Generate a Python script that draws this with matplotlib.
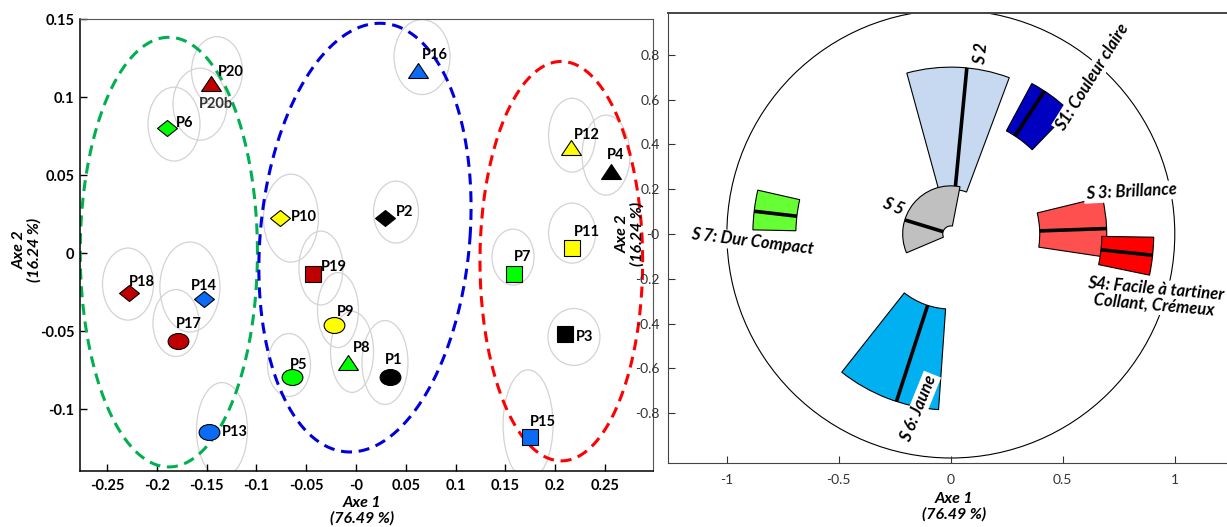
import numpy as np
import matplotlib.pyplot as plt
from matplotlib.patches import Ellipse, Wedge, Circle
from matplotlib.markers import MarkerStyle
from matplotlib.transforms import Affine2D

plt.rcParams['font.family'] = ['Lato', 'DejaVu Sans']

# ---------------- left panel: products on the first two axes ----------------
samples = ['P1', 'P2', 'P3', 'P4', 'P5', 'P6', 'P7', 'P8', 'P9', 'P10',
           'P11', 'P12', 'P13', 'P14', 'P15', 'P16', 'P17', 'P18', 'P19', 'P20']
axe1 = [0.0341, 0.0291, 0.2098, 0.2565, -0.0646, -0.1900, 0.1584, -0.0083, -0.0218, -0.0763,
        0.2166, 0.2162, -0.1473, -0.1527, 0.1746, 0.0627, -0.1785, -0.2277, -0.0429, -0.1460]
axe2 = [-0.0795, 0.0224, -0.0520, 0.0526, -0.0795, 0.0805, -0.0130, -0.0695, -0.0460, 0.0224,
        0.0037, 0.0680, -0.1147, -0.0293, -0.1180, 0.1174, -0.0560, -0.0256, -0.0133, 0.1090]
colour_key = ['black', 'black', 'black', 'black', 'green', 'green', 'green', 'green', 'yellow', 'yellow',
              'yellow', 'yellow', 'blue', 'blue', 'blue', 'blue', 'red', 'red', 'red', 'red']
shape_key = ['circle', 'diamond', 'square', 'triangle', 'circle', 'diamond', 'square', 'triangle',
             'circle', 'diamond', 'square', 'triangle', 'circle', 'diamond', 'square', 'triangle',
             'circle', 'diamond', 'square', 'triangle']

# confidence ellipses (one per product, plus the repeated P20b)
ell_names = samples + ['P20b']
ell_x = [0.0291, 0.0402, 0.2189, 0.2511, -0.0673, -0.1828, 0.1577, -0.0040, -0.0181, -0.0653,
         0.2170, 0.2170, -0.1346, -0.1668, 0.1728, 0.0663, -0.1808, -0.2290, -0.0352, -0.1396, -0.1567]
ell_y = [-0.0700, 0.0265, -0.0536, 0.0630, -0.0716, 0.0829, -0.0024, -0.0632, -0.0364, 0.0226,
         0.0130, 0.0758, -0.1133, -0.0216, -0.1100, 0.1259, -0.0447, -0.0197, -0.0094, 0.1169, 0.0957]
ell_w = [0.0462, 0.0452, 0.0522, 0.0482, 0.0432, 0.0522, 0.0422, 0.0432, 0.0412, 0.0552,
         0.0472, 0.0472, 0.0512, 0.0603, 0.0502, 0.0562, 0.0462, 0.0512, 0.0442, 0.0512, 0.0542]
ell_h = [0.0538, 0.0397, 0.0365, 0.0513, 0.0404, 0.0474, 0.0359, 0.0519, 0.0481, 0.0564,
         0.0385, 0.0474, 0.0609, 0.0577, 0.0705, 0.0481, 0.0429, 0.0462, 0.0474, 0.0442, 0.0462]

# groups (dashed ellipses)
grp_colour = ['#00B050', '#0000DD', '#FF0000']
grp_x = [-0.188, 0.009, 0.2062]
grp_y = [0.0008, 0.0101, -0.005]
grp_a = [0.089, 0.1055, 0.0817]
grp_b = [0.1378, 0.1375, 0.1281]
grp_shear = [0.0, 0.015, 0.0]

# ---------------- right panel: sensory attributes ----------------
attr_names = ['S 2', 'S 5', 'S1: Couleur claire', 'S 7: Dur Compact', 'S 3: Brillance',
              'S4: Facile à tartiner\nCollant, Crémeux', 'S 6: Jaune']
attr_r0 = [0.20, 0.036, 0.523, 0.692, 0.397, 0.674, 0.335]
attr_r1 = [0.745, 0.215, 0.763, 0.884, 0.696, 0.906, 0.786]
attr_t1 = [69.5, 79.0, 46.0, 167.2, -8.5, -11.7, 231.7]
attr_t2 = [105.3, 203.0, 61.7, 178.8, 13.7, -0.9, 266.0]
attr_tm = [84.5, 163.0, 56.8, 173.4, 2.0, -6.0, 252.0]
attr_colour = ['#C6D9F1', '#C0C0C0', '#0000C0', '#66FF33', '#FF5050', '#FF0000', '#00B0F0']

# label placement (layout)
lab_x = [0.134, -0.259, 0.632, -0.888, 0.804, 0.911, -0.143]
lab_y = [0.806, 0.125, 0.702, -0.036, 0.1875, -0.281, -0.777]
lab_rot = [84, -22, 58, -7, 3, -5, 68]

colour_map = {'black': '#000000', 'green': '#00FF00', 'yellow': '#FFFF00',
              'blue': '#0A6CF5', 'red': '#C00000'}
marker_map = {
    'circle': (MarkerStyle('o', transform=Affine2D().scale(1.3, 1.0)), 11.5),
    'square': (MarkerStyle('s'), 11),
    'diamond': (MarkerStyle('D', transform=Affine2D().scale(1.0, 0.78)), 9.8),
    'triangle': (MarkerStyle('^', transform=Affine2D().scale(1.38, 1.0)), 10.8),
}
# label offsets in pixels (right, down) from each marker
label_off = {'P1': (-5, -17), 'P2': (11, -6), 'P3': (11, 3), 'P4': (-5, -16), 'P5': (-2, -12),
             'P6': (9, -5), 'P7': (0, -17), 'P8': (5, -14), 'P9': (3, -13), 'P10': (11, -1),
             'P11': (2, -16), 'P12': (3, -12), 'P13': (13, 0), 'P14': (-13, -13), 'P15': (0, -15.5),
             'P16': (3, -15), 'P17': (-2, -17), 'P18': (0, -11), 'P19': (8, -7), 'P20': (7, -11)}

fig = plt.figure(figsize=(12.27, 5.27), dpi=100)

# ===== left panel =====
ax1 = fig.add_axes([0.0652, 0.1068, 0.4670, 0.8562])
ax1.set_xlim(-0.2772, 0.2983)
ax1.set_ylim(-0.1394, 0.15)

for cx, cy, w, h in zip(ell_x, ell_y, ell_w, ell_h):
    ax1.add_patch(Ellipse((cx, cy), w, h, facecolor='none', edgecolor='#D3D3D3', lw=0.9, zorder=1))

t = np.linspace(0, 2 * np.pi, 300)
for col, cx, cy, a, b, s in zip(grp_colour, grp_x, grp_y, grp_a, grp_b, grp_shear):
    ax1.plot(cx + a * np.cos(t) + s * np.sin(t), cy + b * np.sin(t), color=col, lw=2.2,
             dashes=(3.6, 2.2), zorder=2)

for nm, x, y, ck, sk in zip(samples, axe1, axe2, colour_key, shape_key):
    mk, ms = marker_map[sk]
    ax1.plot([x], [y], linestyle='none', marker=mk, markersize=ms,
             markerfacecolor=colour_map[ck], markeredgecolor='black', markeredgewidth=0.8, zorder=4)
    dx, dy = label_off[nm]
    ax1.annotate(nm, (x, y), xytext=(dx, -dy), textcoords='offset pixels',
                 ha='left', va='center', fontsize=10.5, fontweight='bold', zorder=5)
# repeated sample P20b shares the P20 position
ax1.annotate('P20b', (axe1[19], axe2[19]), xytext=(-12, -21), textcoords='offset pixels',
             ha='left', va='center', fontsize=10.5, fontweight='bold', color='#333333', zorder=5)

xt = np.round(np.arange(-0.25, 0.2501, 0.05), 2)
yt = np.round(np.arange(-0.1, 0.1501, 0.05), 2)
ax1.set_xticks(xt)
ax1.set_xticklabels(['%g' % v for v in xt])
ax1.set_yticks(yt)
ax1.set_yticklabels(['%g' % v for v in yt])
ax1.tick_params(direction='in', length=5, width=1, labelsize=10.5, pad=4)
for lab in ax1.get_xticklabels() + ax1.get_yticklabels():
    lab.set_fontweight('bold')
ax1.tick_params(axis='x', pad=6)
for sp in ['left', 'bottom']:
    ax1.spines[sp].set_linewidth(1.1)
for sp in ['top', 'right']:
    ax1.spines[sp].set_linewidth(0.8)
    ax1.spines[sp].set_color('#555555')

ax1.text(0.492, -0.089, 'Axe 1\n(76.49 %)', transform=ax1.transAxes, ha='center', va='center',
         fontsize=11.5, fontweight='bold', fontstyle='italic', linespacing=1.1)
ax1.text(-0.0925, 0.489, 'Axe 2\n(16.24 %)', transform=ax1.transAxes, ha='center', va='center',
         rotation=90, fontsize=11.5, fontweight='bold', fontstyle='italic', linespacing=1.1)

# ===== right panel =====
ax2 = fig.add_axes([0.5444, 0.1220, 0.4605, 0.8539])
ax2.set_xlim(-1.263, 1.26)
ax2.set_ylim(-1.021, 0.988)
ax2.patch.set_alpha(0)

ax2.add_patch(Circle((0, 0), 1.0, facecolor='none', edgecolor='black', lw=0.8, zorder=1))

for i, (r0, r1, t1, t2, tm, col) in enumerate(zip(attr_r0, attr_r1, attr_t1, attr_t2,
                                                  attr_tm, attr_colour)):
    z = 2 + i * 0.1
    ax2.add_patch(Wedge((0, 0), r1, t1, t2, width=r1 - r0, facecolor=col,
                        edgecolor='black', lw=0.8, zorder=z))
    th = np.deg2rad(tm)
    ax2.plot([r0 * np.cos(th), r1 * np.cos(th)], [r0 * np.sin(th), r1 * np.sin(th)],
             color='black', lw=2.6, solid_capstyle='butt', zorder=z + 0.05)

for nm, x, y, rot in zip(attr_names, lab_x, lab_y, lab_rot):
    ax2.text(x, y, nm, ha='center', va='center', rotation=rot, rotation_mode='anchor',
             fontsize=12, fontweight='bold', fontstyle='italic', linespacing=1.05, zorder=10,
             bbox=dict(facecolor='white', edgecolor='none', pad=1.0))

xt2 = [-1, -0.5, 0, 0.5, 1]
yt2 = np.round(np.arange(-0.8, 0.801, 0.2), 1)
ax2.set_xticks(xt2)
ax2.set_xticklabels(['%g' % v for v in xt2])
ax2.set_yticks(yt2)
ax2.set_yticklabels(['%g' % v for v in yt2])
ax2.tick_params(direction='in', length=5, width=0.8, labelsize=10, colors='#333333')
ax2.tick_params(axis='y', pad=6)
ax2.tick_params(axis='x', pad=8)
ax2.spines['right'].set_visible(False)
ax2.spines['top'].set_linewidth(1.4)
ax2.spines['top'].set_color('#444444')
ax2.spines['left'].set_color('#444444')
ax2.spines['bottom'].set_color('#444444')

ax2.text(0.506, -0.098, 'Axe 1\n(76.49 %)', transform=ax2.transAxes, ha='center', va='center',
         fontsize=11.5, fontweight='bold', fontstyle='italic', linespacing=1.1)
ax2.text(-0.067, 0.508, 'Axe 2\n(16.24 %)', transform=ax2.transAxes, ha='center', va='center',
         rotation=90, fontsize=11.5, fontweight='bold', fontstyle='italic', linespacing=1.1)

fig.savefig('out.png', dpi=100)
